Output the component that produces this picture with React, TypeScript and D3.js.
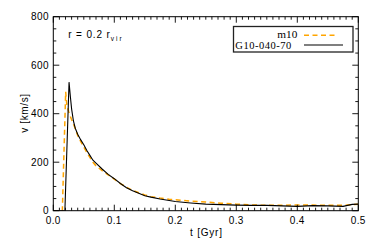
import React from "react";
import * as d3 from "d3";

const tBlack = [0, 0.019, 0.0258, 0.028, 0.03, 0.033, 0.036, 0.04, 0.045, 0.05, 0.055, 0.06, 0.065, 0.07, 0.08, 0.09, 0.1, 0.11, 0.12, 0.13, 0.14, 0.15, 0.16, 0.175, 0.19, 0.2, 0.225, 0.25, 0.275, 0.3, 0.325, 0.35, 0.375, 0.4, 0.425, 0.45, 0.475, 0.49, 0.5];
const vBlack = [0, 0, 530, 470, 420, 370, 340, 315, 292, 272, 248, 228, 208, 196, 172, 150, 132, 112, 95, 82, 72, 62, 56, 48, 42, 38, 32, 27, 25, 23, 22, 22, 20, 18, 21, 20, 18, 26, 27];

const tOrange = [0, 0.0148, 0.0203, 0.022, 0.025, 0.03, 0.035, 0.04, 0.045, 0.05, 0.055, 0.06, 0.065, 0.07, 0.08, 0.09, 0.1, 0.11, 0.12, 0.13, 0.14, 0.15, 0.16, 0.175, 0.19, 0.2, 0.225, 0.25, 0.275, 0.3, 0.325, 0.35, 0.375, 0.4, 0.425, 0.45, 0.475, 0.49, 0.5];
const vOrange = [0, 0, 490, 440, 410, 375, 345, 310, 285, 262, 240, 220, 200, 185, 165, 148, 130, 112, 97, 84, 74, 65, 58, 52, 47, 45, 40, 36, 31, 27, 24, 22, 22, 24, 23, 22, 22, 25, 27];

const xTicks = [0, 0.1, 0.2, 0.3, 0.4, 0.5];
const xTickLabels = ["0.0", "0.1", "0.2", "0.3", "0.4", "0.5"];
const yTicks = [0, 200, 400, 600, 800];
const yTickLabels = ["0", "200", "400", "600", "800"];
const seriesNames = ["m10", "G10-040-70"];

const L = 53.3, R = 358.3, T = 16.7, B = 210.7;

export default function App() {
  const x = d3.scaleLinear().domain([0, 0.5]).range([L, R]);
  const y = d3.scaleLinear().domain([0, 800]).range([B, T]);
  const line = d3.line<[number, number]>().x(d => x(d[0])).y(d => y(d[1]));
  const black = line(tBlack.map((t, i) => [t, vBlack[i]]) as [number, number][]) || "";
  const orange = line(tOrange.map((t, i) => [t, vOrange[i]]) as [number, number][]) || "";
  const xMinor = d3.range(0, 51).map(i => i / 100);
  const yMinor = d3.range(0, 17).map(i => i * 50);
  const sans = "'Liberation Sans', Arial, sans-serif";
  const serif = "'Liberation Serif', 'Times New Roman', serif";
  return (
    <svg width={374} height={245} style={{ position: "absolute", left: 0, top: 0, background: "#fff" }}>
      <rect x={0} y={0} width={374} height={245} fill="#fff" />
      <defs>
        <clipPath id="pc"><rect x={L} y={T} width={R - L} height={B - T} /></clipPath>
      </defs>
      <g clipPath="url(#pc)">
        <path d={orange} fill="none" stroke="#FFA500" strokeWidth={1.5} strokeDasharray="5,3.5" />
        <path d={black} fill="none" stroke="#000" strokeWidth={1.1} />
      </g>
      <g stroke="#000" strokeWidth={0.9}>
        {xMinor.map((t, i) => {
          const major = i % 10 === 0;
          const len = major ? 6 : 3;
          return (
            <g key={"xt" + i}>
              <line x1={x(t)} x2={x(t)} y1={B} y2={B - len} />
              <line x1={x(t)} x2={x(t)} y1={T} y2={T + len} />
            </g>
          );
        })}
        {yMinor.map((v, i) => {
          const major = i % 4 === 0;
          const len = major ? 6 : 3;
          return (
            <g key={"yt" + i}>
              <line x1={L} x2={L + len} y1={y(v)} y2={y(v)} />
              <line x1={R} x2={R - len} y1={y(v)} y2={y(v)} />
            </g>
          );
        })}
      </g>
      <rect x={L} y={T} width={R - L} height={B - T} fill="none" stroke="#000" strokeWidth={1} />
      <g fontFamily={sans} fontSize={10} fill="#000">
        {xTicks.map((t, i) => (
          <text key={"xl" + i} x={x(t)} y={223.5} textAnchor="middle" letterSpacing={0.4}>{xTickLabels[i]}</text>
        ))}
        {yTicks.map((v, i) => (
          <text key={"yl" + i} x={49} y={y(v) + 3.5} textAnchor="end" letterSpacing={0.4}>{yTickLabels[i]}</text>
        ))}
        <text x={190} y={236} textLength={32} lengthAdjust="spacing" fontSize={10}>t [Gyr]</text>
        <text transform="translate(28,113) rotate(-90)" textAnchor="middle" fontSize={10} letterSpacing={0.6}>v [km/s]</text>
      </g>
      <text x={68.3} y={38.3} fontFamily={sans} fontSize={10} textLength={41.5} lengthAdjust="spacing" style={{ whiteSpace: "pre" }}>
        {"r = 0.2 r"}
      </text>
      <text x={110.7} y={40.5} fontFamily={sans} fontSize={6.5} textLength={11} lengthAdjust="spacing">vir</text>
      <rect x={233.5} y={26.5} width={119.5} height={25.5} fill="#fff" stroke="#222" strokeWidth={1.3} />
      <text x={277.3} y={38} fontFamily={serif} fontSize={10.5} textLength={20} lengthAdjust="spacingAndGlyphs">{seriesNames[0]}</text>
      <line x1={304} x2={338} y1={35.3} y2={35.3} stroke="#FFA500" strokeWidth={1.5} strokeDasharray="5,3.5" />
      <text x={235.3} y={48.6} fontFamily={serif} fontSize={10.5} textLength={56} lengthAdjust="spacing">{seriesNames[1]}</text>
      <line x1={304} x2={343} y1={45} y2={45} stroke="#000" strokeWidth={1.1} />
    </svg>
  );
}
